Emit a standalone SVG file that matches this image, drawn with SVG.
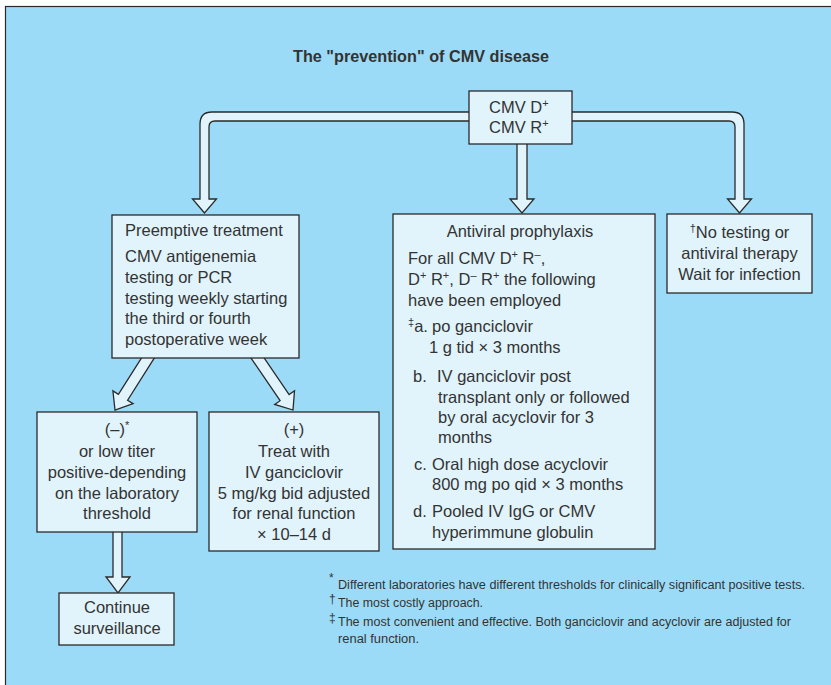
<svg xmlns="http://www.w3.org/2000/svg" width="831" height="685" viewBox="0 0 831 685">
<style>
.box{fill:#e1f4fc;stroke:#2a2a2a;stroke-width:1.3}
.arr{fill:#e1f4fc;stroke:#2a2a2a;stroke-width:1.3;stroke-linejoin:miter}
text{font-family:"Liberation Sans",Arial,sans-serif;fill:#333;font-size:16.5px}
.c{text-anchor:middle}
.fn{font-size:12px}
.sup{font-size:11px}
</style>
<rect x="0" y="0" width="831" height="685" fill="#ffffff"/>
<rect x="5.5" y="6.5" width="830" height="690" fill="#9cdbf7" stroke="#2a2a2a" stroke-width="1.2"/>
<text id="title" x="421" y="62" class="c" font-weight="bold" font-size="16px" textLength="256" lengthAdjust="spacingAndGlyphs">The "prevention" of CMV disease</text>

<g id="connectors">
<path class="arr" d="M204.5 213 L192.5 199 L200 199 L200 124 Q200 112 212 112 L732 112 Q744 112 744 124 L744 199 L751.5 199 L739.5 213 L727.5 199 L735 199 L735 127 Q735 121 729 121 L215 121 Q209 121 209 127 L209 199 L216.5 199 Z"/>
<path class="arr" d="M517 140 L517 199 L510 199 L522 213 L534 199 L527 199 L527 140 Z"/>
<path class="arr" d="M147.1 349.1 L118.4 394.4 L112.9 390.9 L115 410 L133.1 403.7 L127.6 400.2 L156.3 354.9 Z"/>
<path class="arr" d="M249 355.1 L280.1 400.7 L274.7 404.4 L293 410 L294.5 390.8 L289.1 394.5 L258 348.9 Z"/>
<path class="arr" d="M113 528 L113 577 L106 577 L118 593 L130 577 L122 577 L122 528 Z"/>
</g>

<g id="cmv">
<rect class="box" x="469" y="91" width="103" height="53"/>
<text x="489" y="113">CMV D<tspan class="sup" dy="-6">+</tspan></text>
<text x="489" y="133">CMV R<tspan class="sup" dy="-6">+</tspan></text>
</g>

<g id="preemptive">
<rect class="box" x="112" y="215" width="187" height="143"/>
<text x="125" y="236">Preemptive treatment</text>
<text x="125" y="262">CMV antigenemia</text>
<text x="125" y="283">testing or PCR</text>
<text x="125" y="304">testing weekly starting</text>
<text x="125" y="324">the third or fourth</text>
<text x="125" y="345">postoperative week</text>
</g>

<g id="prophylaxis">
<rect class="box" x="393" y="214" width="262" height="335"/>
<text x="520" y="237" class="c">Antiviral prophylaxis</text>
<text x="408" y="264">For all CMV D<tspan class="sup" dy="-6">+</tspan><tspan dy="6"> R</tspan><tspan class="sup" dy="-6">–</tspan><tspan dy="6">,</tspan></text>
<text x="408" y="285">D<tspan class="sup" dy="-6">+</tspan><tspan dy="6"> R</tspan><tspan class="sup" dy="-6">+</tspan><tspan dy="6">, D</tspan><tspan class="sup" dy="-6">–</tspan><tspan dy="6"> R</tspan><tspan class="sup" dy="-6">+</tspan><tspan dy="6"> the following</tspan></text>
<text x="408" y="306">have been employed</text>
<text x="408" y="332"><tspan class="sup" dy="-6">‡</tspan><tspan dy="6">a.</tspan></text>
<text x="432" y="332">po ganciclovir</text>
<text x="429" y="353">1 g tid × 3 months</text>
<text x="413" y="382">b.</text>
<text x="437" y="382">IV ganciclovir post</text>
<text x="438" y="403">transplant only or followed</text>
<text x="438" y="423">by oral acyclovir for 3</text>
<text x="438" y="443">months</text>
<text x="414" y="470">c.</text>
<text x="432" y="470">Oral high dose acyclovir</text>
<text x="432" y="490">800 mg po qid × 3 months</text>
<text x="413" y="517">d.</text>
<text x="432" y="517">Pooled IV IgG or CMV</text>
<text x="432" y="538">hyperimmune globulin</text>
</g>

<g id="notesting">
<rect class="box" x="667" y="214" width="145" height="79"/>
<text x="739.5" y="238" class="c"><tspan class="sup" dy="-6">†</tspan><tspan dy="6">No testing or</tspan></text>
<text x="739.5" y="259" class="c">antiviral therapy</text>
<text x="739.5" y="280" class="c">Wait for infection</text>
</g>

<g id="negative">
<rect class="box" x="37" y="412" width="160" height="120"/>
<text x="117" y="435" class="c">(–)<tspan class="sup" dy="-6">*</tspan></text>
<text x="117" y="457" class="c">or low titer</text>
<text x="117" y="478" class="c">positive-depending</text>
<text x="117" y="499" class="c">on the laboratory</text>
<text x="117" y="519" class="c">threshold</text>
</g>

<g id="positive">
<rect class="box" x="209" y="412" width="170" height="139"/>
<text x="294" y="435" class="c">(+)</text>
<text x="294" y="457" class="c">Treat with</text>
<text x="294" y="478" class="c">IV ganciclovir</text>
<text x="294" y="499" class="c">5 mg/kg bid adjusted</text>
<text x="294" y="519" class="c">for renal function</text>
<text x="294" y="540" class="c">× 10–14 d</text>
</g>

<g id="continue">
<rect class="box" x="59" y="593" width="115" height="52"/>
<text x="117" y="613" class="c">Continue</text>
<text x="117" y="634" class="c">surveillance</text>
</g>

<g id="footnotes">
<text x="329" y="582" class="fn" font-size="10px">*</text>
<text x="338" y="589" class="fn" textLength="467" lengthAdjust="spacingAndGlyphs">Different laboratories have different thresholds for clinically significant positive tests.</text>
<text x="329" y="603" class="fn" font-size="10px">†</text>
<text x="338" y="607" class="fn" textLength="145" lengthAdjust="spacingAndGlyphs">The most costly approach.</text>
<text x="329" y="622" class="fn" font-size="10px">‡</text>
<text x="338" y="626" class="fn" textLength="453" lengthAdjust="spacingAndGlyphs">The most convenient and effective. Both ganciclovir and acyclovir are adjusted for</text>
<text x="338" y="643" class="fn" textLength="81" lengthAdjust="spacingAndGlyphs">renal function.</text>
</g>
</svg>
